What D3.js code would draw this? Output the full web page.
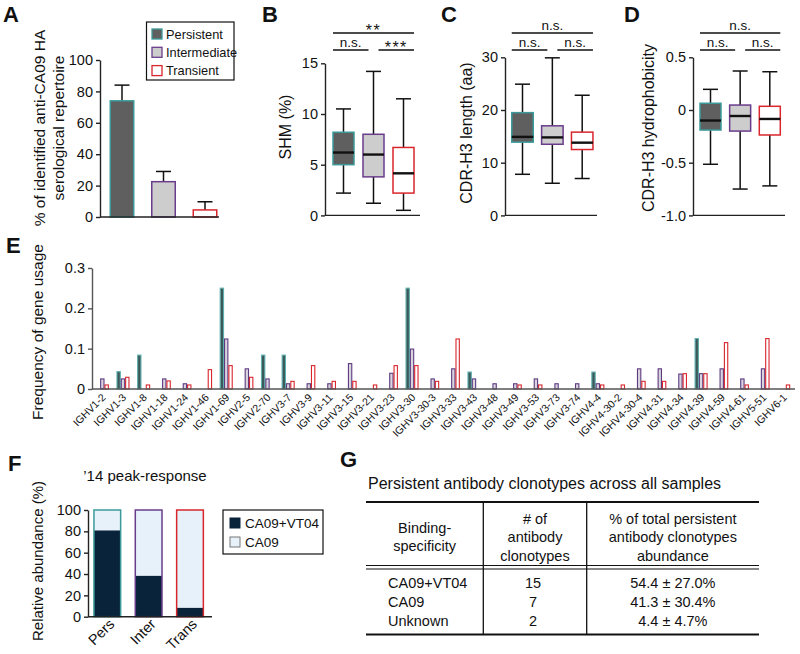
<!DOCTYPE html>
<html><head><meta charset="utf-8">
<script src="https://cdn.jsdelivr.net/npm/d3@7"></script>
<style>body{margin:0;background:#fff} text{font-family:"Liberation Sans",Arial,sans-serif;fill:#111}</style>
</head><body><svg id="c" width="800" height="654"></svg>
<script>
// ---------------- DATA ----------------
const groups = ["Persistent","Intermediate","Transient"];
const groupShort = ["Pers","Inter","Trans"];
const repertoireMean = [74, 22.5, 4.5];
const repertoireUpper = [84, 29, 9.7];
const repertoireTicks = [0,20,40,60,80,100];
// box stats: [low whisker, q1, median, q3, high whisker]
const shmBox = [[2.2,5.0,6.2,8.2,10.5],[1.2,3.8,6.0,8.0,14.2],[0.5,2.2,4.15,6.7,11.5]];
const shmTicks = [0,5,10,15];
const shmSig = ["**","n.s.","***"];
const cdrLenBox = [[7.8,13.9,14.9,19.5,24.9],[6.1,13.5,14.8,17.0,29.9],[7.0,12.5,13.8,15.8,22.8]];
const cdrLenTicks = [0,10,20,30];
const cdrLenSig = ["n.s.","n.s.","n.s."];
const hydroBox = [[-0.515,-0.19,-0.10,0.064,0.196],[-0.75,-0.20,-0.057,0.047,0.37],[-0.72,-0.237,-0.085,0.035,0.363]];
const hydroTicks = [-1,-0.5,0,0.5];
const hydroTickLabels = ["-1.0","-0.5","0","0.5"];
const hydroSig = ["n.s.","n.s.","n.s."];

const genes = ["IGHV1-2","IGHV1-3","IGHV1-8","IGHV1-18","IGHV1-24","IGHV1-46","IGHV1-69","IGHV2-5","IGHV2-70","IGHV3-7","IGHV3-9","IGHV3-11","IGHV3-15","IGHV3-21","IGHV3-23","IGHV3-30","IGHV3-30-3","IGHV3-33","IGHV3-43","IGHV3-48","IGHV3-49","IGHV3-53","IGHV3-73","IGHV3-74","IGHV4-4","IGHV4-30-2","IGHV4-30-4","IGHV4-31","IGHV4-34","IGHV4-39","IGHV4-59","IGHV4-61","IGHV5-51","IGHV6-1"];
const freqPersistent   = [0,0.043,0.084,0,0,0,0.25,0,0.084,0.084,0,0,0,0,0,0.25,0,0,0.042,0,0,0,0,0,0.042,0,0,0,0,0.125,0,0,0,0];
const freqIntermediate = [0.025,0.025,0,0.025,0.013,0,0.124,0.05,0.025,0.013,0.013,0.013,0.063,0,0.039,0.099,0.025,0.05,0.025,0.013,0.013,0.025,0.013,0.013,0.013,0,0.05,0.05,0.037,0.038,0.05,0.025,0.05,0];
const freqTransient    = [0.01,0.029,0.01,0.02,0.01,0.048,0.058,0.029,0,0.019,0.058,0.019,0.019,0.01,0.058,0.058,0.019,0.124,0,0,0.01,0.01,0,0,0.01,0.01,0.019,0.019,0.038,0.038,0.115,0.01,0.125,0.01];
const freqTicks = [0,0.1,0.2,0.3];

const abundanceDual = [81, 38.5, 8.5];     // CA09+VT04
const abundanceCA09 = [19, 61.5, 91.5];    // CA09
const abundanceKeys = ["CA09+VT04","CA09"];

const tableHeader = [["Binding-","specificity"],["# of","antibody","clonotypes"],["% of total persistent","antibody clonotypes","abundance"]];
const tableSpecificity = ["CA09+VT04","CA09","Unknown"];
const tableCount = ["15","7","2"];
const tableAbundance = ["54.4 ± 27.0%","41.3 ± 30.4%","4.4 ± 4.7%"];

// ---------------- STYLE ----------------
const strokeCol = ["#3c9a9a","#6a3d8c","#d9262c"];
const fillA = ["#5f5f5f","#cdcdcd","#ffffff"];
const fillE = ["#3d5858","#d9d5df","#ffffff"];
const strokeE = ["#5fb0b0","#5e3a80","#d9262c"];
const stackFill = ["#08233a","#e6f1fa"];
const axisCol = "#222";
const FS = 14.5;

const svg = d3.select("#c");

function styleAxis(g, fs){
  g.attr("font-size", fs).attr("font-family", '"Liberation Sans",Arial,sans-serif');
  g.selectAll("path,line").attr("stroke", axisCol).attr("stroke-width", 1.4);
  g.selectAll("text").attr("fill","#111");
}
function letter(t,x,y){ svg.append("text").attr("x",x).attr("y",y).attr("font-size",22).attr("font-weight","bold").text(t); }
function vlabel(lines, cx, cy, fs, gap){
  lines.forEach((l,i)=>{
    const x = cx + (i-(lines.length-1)/2)*gap;
    svg.append("text").attr("transform",`translate(${x},${cy}) rotate(-90)`).attr("text-anchor","middle")
      .attr("dy","0.35em").attr("font-size",fs).text(l);
  });
}

// ---------------- PANEL A ----------------
letter("A",3,22);
{
  const y = d3.scaleLinear().domain([0,100]).range([217,60]);
  const x = d3.scalePoint().domain(groups).range([122,205]);
  const bw = 23.5;
  const g = svg.append("g");
  groups.forEach((k,i)=>{
    const cx = x(k);
    g.append("line").attr("x1",cx).attr("x2",cx).attr("y1",y(repertoireMean[i])).attr("y2",y(repertoireUpper[i])).attr("stroke","#111").attr("stroke-width",1.5);
    g.append("line").attr("x1",cx-7.5).attr("x2",cx+7.5).attr("y1",y(repertoireUpper[i])).attr("y2",y(repertoireUpper[i])).attr("stroke","#111").attr("stroke-width",1.5);
    g.append("rect").attr("x",cx-bw/2).attr("width",bw).attr("y",y(repertoireMean[i])).attr("height",y(0)-y(repertoireMean[i]))
      .attr("fill",fillA[i]).attr("stroke",strokeCol[i]).attr("stroke-width",1.5);
  });
  const ax = svg.append("g").attr("transform","translate(100,0)").call(d3.axisLeft(y).tickValues(repertoireTicks).tickSize(4).tickPadding(3).tickSizeOuter(0));
  styleAxis(ax, FS);
  svg.append("line").attr("x1",100).attr("x2",219).attr("y1",y(0)).attr("y2",y(0)).attr("stroke",axisCol).attr("stroke-width",1.4);
  vlabel(["% of identified anti-CA09 HA","serological repertoire"],49,128,15.5,18.5);
  // legend
  const lg = svg.append("g");
  lg.append("rect").attr("x",146.5).attr("y",22).attr("width",87.5).attr("height",58).attr("fill","#fff").attr("stroke","#111").attr("stroke-width",1.2);
  groups.forEach((k,i)=>{
    const yy = 29 + i*18.3;
    lg.append("rect").attr("x",152).attr("y",yy).attr("width",10).attr("height",10).attr("fill",fillA[i]).attr("stroke",strokeCol[i]).attr("stroke-width",1.3);
    lg.append("text").attr("x",166).attr("y",yy+9.5).attr("font-size",12.8).text(k);
  });
}

// ---------------- BOX PANELS ----------------
function boxPanel(opts){
  const {axisX, endX, scale, stats, centers, w, ticks, tickLabels, sig} = opts;
  const y = scale;
  const x = d3.scalePoint().domain(groups).range(centers);
  const g = svg.append("g");
  groups.forEach((k,i)=>{
    const s = stats[i], cx = x(k);
    g.append("line").attr("x1",cx).attr("x2",cx).attr("y1",y(s[0])).attr("y2",y(s[4])).attr("stroke","#111").attr("stroke-width",1.5);
    [s[0],s[4]].forEach(v=>g.append("line").attr("x1",cx-7.5).attr("x2",cx+7.5).attr("y1",y(v)).attr("y2",y(v)).attr("stroke","#111").attr("stroke-width",1.5));
    g.append("rect").attr("x",cx-w/2).attr("width",w).attr("y",y(s[3])).attr("height",y(s[1])-y(s[3]))
      .attr("fill",fillA[i]).attr("stroke",strokeCol[i]).attr("stroke-width",1.5);
    g.append("line").attr("x1",cx-w/2).attr("x2",cx+w/2).attr("y1",y(s[2])).attr("y2",y(s[2])).attr("stroke","#111").attr("stroke-width",2.4);
  });
  const axis = d3.axisLeft(y).tickValues(ticks).tickSize(4).tickPadding(3).tickSizeOuter(0);
  if (tickLabels) axis.tickFormat((d,i)=>tickLabels[i]);
  const ax = svg.append("g").attr("transform",`translate(${axisX},0)`).call(axis);
  styleAxis(ax, FS);
  const y0 = y.range()[0];
  svg.append("line").attr("x1",axisX).attr("x2",endX).attr("y1",y0).attr("y2",y0).attr("stroke",axisCol).attr("stroke-width",1.4);
  // significance
  const L = x(groups[0]) - w/2, R = x(groups[2]) + w/2, M = x(groups[1]);
  const sg = svg.append("g").attr("stroke","#111").attr("stroke-width",1.4);
  sg.append("line").attr("x1",L).attr("x2",R).attr("y1",33).attr("y2",33);
  sg.append("line").attr("x1",L).attr("x2",M-5).attr("y1",50).attr("y2",50);
  sg.append("line").attr("x1",M+5).attr("x2",R).attr("y1",50).attr("y2",50);
  const lab = (t,cx,yy)=>{
    const star = t.indexOf("*")>=0;
    svg.append("text").attr("x",cx).attr("y",star? yy+6: yy).attr("text-anchor","middle")
      .attr("font-size", star?16:13.5).attr("letter-spacing", star?"1.5px":"0").text(t);
  };
  lab(sig[0],(L+R)/2,30);
  lab(sig[1],(L+M-5)/2,47);
  lab(sig[2],(M+5+R)/2,47);
}

letter("B",262,22);
boxPanel({axisX:325,endX:420,scale:d3.scaleLinear().domain([0,15]).range([215.4,63.3]),stats:shmBox,centers:[343.5,403.5],w:21,ticks:shmTicks,sig:shmSig});
vlabel(["SHM (%)"],285,127,16,0);

letter("C",441,22);
boxPanel({axisX:505,endX:597,scale:d3.scaleLinear().domain([0,30]).range([215.4,57.3]),stats:cdrLenBox,centers:[522.5,582.2],w:21.5,ticks:cdrLenTicks,sig:cdrLenSig});
vlabel(["CDR-H3 length (aa)"],466,133,16,0);

letter("D",624,22);
boxPanel({axisX:693,endX:785,scale:d3.scaleLinear().domain([-1,0.5]).range([215.4,57.3]),stats:hydroBox,centers:[710.5,769.8],w:21,ticks:hydroTicks,tickLabels:hydroTickLabels,sig:hydroSig});
vlabel(["CDR-H3 hydrophobicity"],648,128,16,0);

// ---------------- PANEL E ----------------
letter("E",6,253);
{
  const y = d3.scaleLinear().domain([0,0.3]).range([389,268]);
  const x0 = d3.scaleBand().domain(genes).range([92,794]);
  const x1 = d3.scaleBand().domain(groups).range([-6.5,6.5]);
  const series = [freqPersistent, freqIntermediate, freqTransient];
  const g = svg.append("g");
  genes.forEach((gene,j)=>{
    const c = x0(gene) + x0.bandwidth()/2;
    groups.forEach((k,i)=>{
      const v = series[i][j];
      if (v<=0) return;
      g.append("rect").attr("x",c + x1(k)+0.5).attr("width",x1.bandwidth()-1).attr("y",y(v)).attr("height",y(0)-y(v))
        .attr("fill",fillE[i]).attr("stroke",strokeE[i]).attr("stroke-width",1.1);
    });
  });
  const ay = svg.append("g").attr("transform","translate(92,0)").call(d3.axisLeft(y).tickValues(freqTicks).tickFormat(d=>d===0?"0":d3.format(".1f")(d)).tickSize(4).tickPadding(3).tickSizeOuter(0));
  styleAxis(ay, FS);
  ay.selectAll("path,line").attr("stroke","#555");
  const axx = svg.append("g").attr("transform","translate(0,389)").call(d3.axisBottom(x0).tickSize(0).tickSizeOuter(0));
  styleAxis(axx, 10.5);
  axx.select("path").attr("stroke","#555").attr("d","M92,0H795");
  axx.selectAll("text").attr("y",0).attr("dy",0).attr("text-anchor","end")
     .attr("transform","translate(4,9) rotate(-45)");
  vlabel(["Frequency of gene usage"],38,332,15.5,0);
}

// ---------------- PANEL F ----------------
letter("F",8,471);
{
  svg.append("text").attr("x",145).attr("y",481).attr("text-anchor","middle").attr("font-size",15).text("\u201914 peak-response");
  const y = d3.scaleLinear().domain([0,100]).range([616.7,510]);
  const x = d3.scalePoint().domain(groupShort).range([107.3,190]);
  const bw = 26.7;
  const rows = groupShort.map((k,i)=>({k, "CA09+VT04":abundanceDual[i], "CA09":abundanceCA09[i]}));
  const stacked = d3.stack().keys(abundanceKeys)(rows);
  const g = svg.append("g");
  stacked.forEach((layer,li)=>{
    layer.forEach((d,i)=>{
      g.append("rect").attr("x",x(groupShort[i])-bw/2).attr("width",bw).attr("y",y(d[1])).attr("height",y(d[0])-y(d[1]))
        .attr("fill",stackFill[li]);
    });
  });
  groupShort.forEach((k,i)=>{
    g.append("rect").attr("x",x(k)-bw/2).attr("width",bw).attr("y",y(100)).attr("height",y(0)-y(100))
      .attr("fill","none").attr("stroke",strokeCol[i]).attr("stroke-width",1.5);
  });
  const ax = svg.append("g").attr("transform","translate(88,0)").call(d3.axisLeft(y).tickValues(repertoireTicks).tickSize(4).tickPadding(3).tickSizeOuter(0));
  styleAxis(ax, FS);
  svg.append("line").attr("x1",88).attr("x2",212).attr("y1",y(0)).attr("y2",y(0)).attr("stroke",axisCol).attr("stroke-width",1.4);
  groupShort.forEach((k)=>{
    svg.append("text").attr("transform",`translate(${x(k)+8},${625}) rotate(-45)`).attr("text-anchor","end").attr("font-size",14.5).text(k);
  });
  vlabel(["Relative abundance (%)"],38,561,15,0);
  const lg = svg.append("g");
  lg.append("rect").attr("x",223).attr("y",510).attr("width",100).attr("height",44).attr("fill","#fff").attr("stroke","#111").attr("stroke-width",1.2);
  abundanceKeys.forEach((k,i)=>{
    const yy = 518 + i*19;
    lg.append("rect").attr("x",230).attr("y",yy).attr("width",10).attr("height",10).attr("fill",stackFill[i]).attr("stroke",i? "#777":"#08233a").attr("stroke-width",1);
    lg.append("text").attr("x",245).attr("y",yy+9.5).attr("font-size",13.5).text(k);
  });
}

// ---------------- PANEL G ----------------
letter("G",340,467);
{
  svg.append("text").attr("x",368).attr("y",489).attr("font-size",16).text("Persistent antibody clonotypes across all samples");
  const L = 366, R = 759, V1 = 483.3, V2 = 586.7;
  const g = svg.append("g").attr("stroke","#111");
  g.append("line").attr("x1",L).attr("x2",R).attr("y1",502).attr("y2",502).attr("stroke-width",2.2);
  g.append("line").attr("x1",L).attr("x2",R).attr("y1",565.5).attr("y2",565.5).attr("stroke-width",1.1);
  g.append("line").attr("x1",L).attr("x2",R).attr("y1",569).attr("y2",569).attr("stroke-width",1.1);
  g.append("line").attr("x1",L).attr("x2",R).attr("y1",634.5).attr("y2",634.5).attr("stroke-width",2.2);
  [V1,V2].forEach(v=>g.append("line").attr("x1",v).attr("x2",v).attr("y1",502).attr("y2",634.5).attr("stroke-width",1.3));
  const colC = [(L+V1)/2,(V1+V2)/2,(V2+R)/2];
  tableHeader.forEach((lines,ci)=>{
    const n = lines.length;
    lines.forEach((t,li)=>{
      const yy = 537 + (li-(n-1)/2)*18.5;
      svg.append("text").attr("x",colC[ci]).attr("y",yy+5).attr("text-anchor","middle").attr("font-size",14.5).text(t);
    });
  });
  tableSpecificity.forEach((t,ri)=>{
    const yy = 588 + ri*18.8;
    svg.append("text").attr("x",388).attr("y",yy).attr("font-size",14.5).text(t);
    svg.append("text").attr("x",colC[1]-2).attr("y",yy).attr("text-anchor","middle").attr("font-size",14.5).text(tableCount[ri]);
    svg.append("text").attr("x",colC[2]).attr("y",yy).attr("text-anchor","middle").attr("font-size",14.5).text(tableAbundance[ri]);
  });
}
</script></body></html>
